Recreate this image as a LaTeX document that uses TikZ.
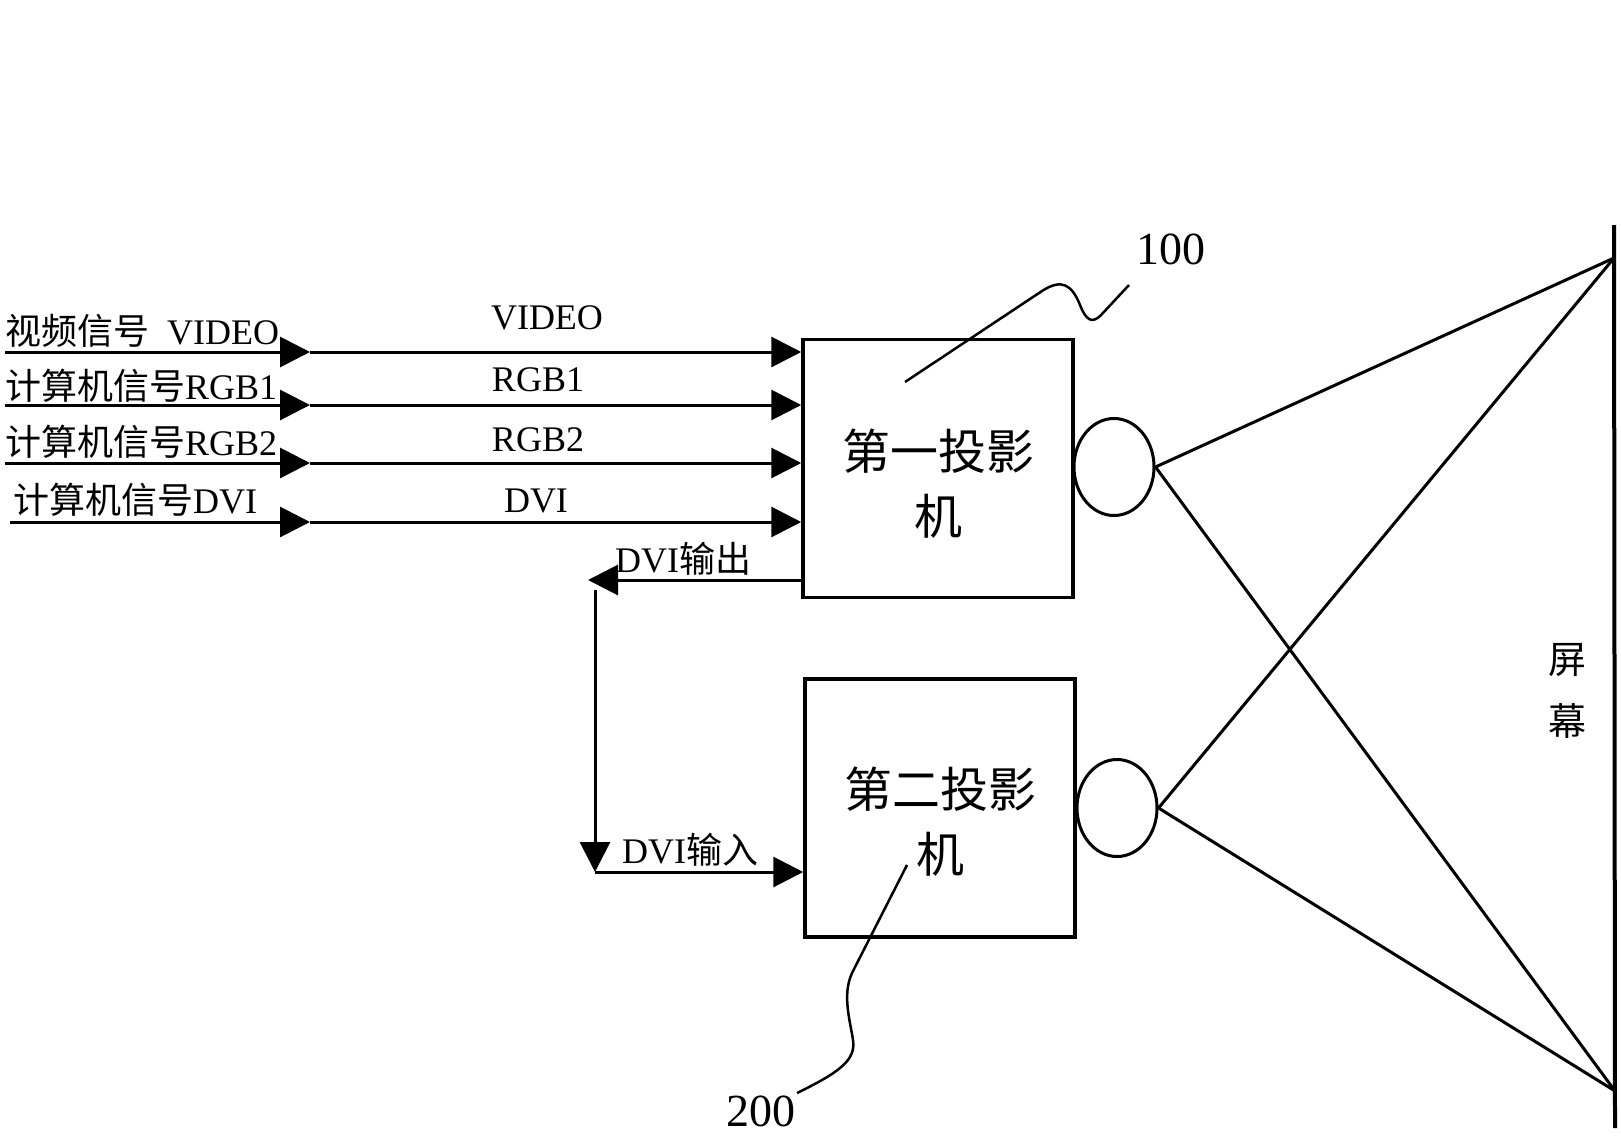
\documentclass[tikz,border=0pt]{standalone}
\usepackage{fontspec}
\setmainfont{Liberation Serif}
\newfontfamily\cjk{Noto Sans CJK SC}
\usepackage{tikz}
\usetikzlibrary{arrows.meta,shapes.geometric}
\tikzset{
  sigLine/.style={line width=3pt,-{Triangle[length=30pt,width=30pt]}},
  projBox/.style={draw,line width=3.5pt,minimum width=270pt,minimum height=258pt,inner sep=0pt},
  lensOval/.style={draw,ellipse,line width=3pt,minimum width=80pt,minimum height=97pt,inner sep=0pt},
  beamLine/.style={line width=3pt},
  leadLine/.style={line width=2.5pt},
  inTxt/.style={font=\fontsize{36}{40}\selectfont,inner sep=0pt},
  boxTxt/.style={font=\cjk\fontsize{48}{65}\selectfont,align=center,inner sep=0pt},
  numTxt/.style={font=\fontsize{46}{50}\selectfont,inner sep=0pt}
}
\begin{document}
\begin{tikzpicture}[x=1pt,y=-1pt]
\useasboundingbox (0,0) rectangle (1621,1137);
\node[projBox] (proj1) at (938,468.5) {};
\node[projBox] (proj2) at (940,808) {};
\node[boxTxt] (proj1Txt) at (938,484) {第一投影\\机};
\node[boxTxt] (proj2Txt) at (940,822) {第二投影\\机};
\node[lensOval] (lens1) at (1114,467) {};
\node[lensOval] (lens2) at (1117,808) {};

\coordinate (inV) at (5,352);
\coordinate (inR1) at (5,405);
\coordinate (inR2) at (5,463);
\coordinate (inD) at (10,522);
\coordinate (midV) at (310,352);
\coordinate (midR1) at (310,405);
\coordinate (midR2) at (310,463);
\coordinate (midD) at (310,522);
\draw[sigLine] (inV) -- (midV);
\draw[sigLine] (midV) -- (proj1.west |- midV);
\draw[sigLine] (inR1) -- (midR1);
\draw[sigLine] (midR1) -- (proj1.west |- midR1);
\draw[sigLine] (inR2) -- (midR2);
\draw[sigLine] (midR2) -- (proj1.west |- midR2);
\draw[sigLine] (inD) -- (midD);
\draw[sigLine] (midD) -- (proj1.west |- midD);

\node[inTxt,anchor=base west] (lblVideo) at (5,344) {{\cjk 视频信号}\hspace{18pt}VIDEO};
\node[inTxt,anchor=base west] (lblRgb1) at (5,399) {{\cjk 计算机信号}RGB1};
\node[inTxt,anchor=base west] (lblRgb2) at (5,455) {{\cjk 计算机信号}RGB2};
\node[inTxt,anchor=base west] (lblDvi) at (13,513) {{\cjk 计算机信号}DVI};
\node[inTxt,anchor=base] (midVideo) at (547,329) {VIDEO};
\node[inTxt,anchor=base] (midRgb1) at (538,391) {RGB1};
\node[inTxt,anchor=base] (midRgb2) at (538,451) {RGB2};
\node[inTxt,anchor=base] (midDvi) at (536,512) {DVI};

\coordinate (dviOut) at (588,580);
\coordinate (dviDown) at (595,590);
\coordinate (dviCorner) at (595,872);
\draw[sigLine] (proj1.west |- dviOut) -- (dviOut);
\draw[sigLine] (dviDown) -- (dviCorner);
\draw[sigLine] (dviCorner) -- (proj2.west |- dviCorner);
\node[inTxt,anchor=base west] (lblOut) at (615,572) {DVI{\cjk 输出}};
\node[inTxt,anchor=base west] (lblIn) at (622,863) {DVI{\cjk 输入}};

\coordinate (scrTopEnd) at (1614,225);
\coordinate (scrBotEnd) at (1615,1128);
\coordinate (scrHi) at (1614,258);
\coordinate (scrLo) at (1615,1091);
\draw[line width=4pt] (scrTopEnd) -- (scrBotEnd);
\draw[beamLine] (lens1.east) -- (scrHi);
\draw[beamLine] (lens1.east) -- (scrLo);
\draw[beamLine] (lens2.east) -- (scrHi);
\draw[beamLine] (lens2.east) -- (scrLo);
\node[font=\cjk\fontsize{38}{62}\selectfont,align=center,inner sep=0pt] (scrTxt) at (1567,691) {屏\\幕};

\node[numTxt] (num100) at (1171,249) {100};
\node[numTxt] (num200) at (761,1111) {200};
\draw[leadLine] (905,382) -- (1042,291) .. controls (1062,278) and (1072,285) .. (1080,305) .. controls (1086,320) and (1092,325) .. (1102,314) -- (1129,285);
\draw[leadLine] (907,865) -- (852,973) .. controls (842,995) and (850,1020) .. (853,1040) .. controls (856,1060) and (840,1072) .. (797,1093);
\end{tikzpicture}
\end{document}
